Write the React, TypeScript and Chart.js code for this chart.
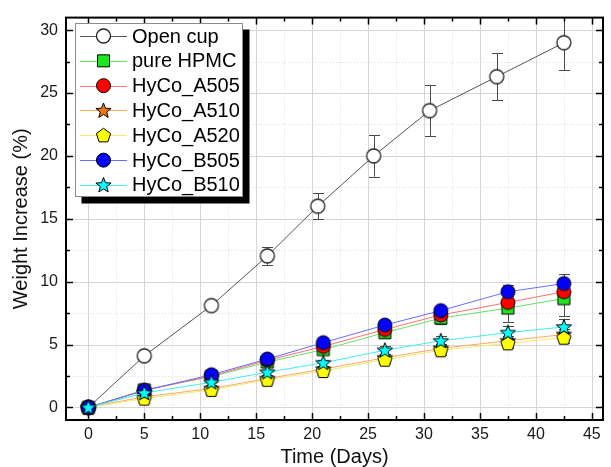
import React, { useEffect, useRef } from 'react';
import { Chart, registerables } from 'chart.js';

Chart.register(...registerables);

// ---------------- data ----------------
const days = [0, 5, 11, 16, 21, 26.5, 31.5, 37.5, 42.5];
const openCupDays = [0, 5, 11, 16, 20.5, 25.5, 30.5, 36.5, 42.5];

const openCup = [0, 4.1, 8.1, 12.05, 16.0, 20.0, 23.6, 26.3, 29.0];
const openCupErr = [0, 0.35, 0.25, 0.7, 1.05, 1.65, 2.05, 1.85, 2.2];

const pureHPMC = [0, 1.4, 2.45, 3.6, 4.6, 5.95, 7.1, 7.9, 8.65];
const pureHPMCErr = [0, 0.2, 0.2, 0.3, 0.35, 0.4, 0.5, 1.1, 1.4];

const hyCoA505 = [0, 1.35, 2.5, 3.75, 4.85, 6.2, 7.35, 8.35, 9.2];
const hyCoA505Err = [0, 0.2, 0.2, 0.25, 0.3, 0.35, 0.4, 0.5, 0.6];

const hyCoA510 = [0, 0.85, 1.5, 2.3, 3.05, 3.95, 4.7, 5.3, 5.8];
const hyCoA510Err = [0, 0.15, 0.2, 0.2, 0.25, 0.3, 0.35, 0.4, 0.45];

const hyCoA520 = [0, 0.7, 1.4, 2.2, 2.9, 3.8, 4.55, 5.1, 5.55];
const hyCoA520Err = [0, 0.15, 0.2, 0.2, 0.25, 0.3, 0.35, 0.4, 0.45];

const hyCoB505 = [0, 1.35, 2.6, 3.85, 5.15, 6.55, 7.7, 9.2, 9.85];
const hyCoB505Err = [0, 0.2, 0.2, 0.25, 0.3, 0.3, 0.35, 0.5, 0.75];

const hyCoB510 = [0, 1.15, 2.0, 2.8, 3.55, 4.55, 5.3, 5.95, 6.4];
const hyCoB510Err = [0, 0.15, 0.2, 0.2, 0.25, 0.3, 0.35, 0.5, 0.65];

const seriesNames = ['Open cup', 'pure HPMC', 'HyCo_A505', 'HyCo_A510', 'HyCo_A520', 'HyCo_B505', 'HyCo_B510'];
const xTitle = 'Time (Days)';
const yTitle = 'Weight Increase (%)';

// ---------------- styles ----------------
type Kind = 'circle' | 'square' | 'star' | 'pentagon';
interface Series {
  name: string;
  xs: number[];
  ys: number[];
  err: number[];
  line: string;
  fill: string;
  stroke: string;
  kind: Kind;
}

const SERIES: Series[] = [
  { name: seriesNames[0], xs: openCupDays, ys: openCup, err: openCupErr, line: '#555555', fill: '#ffffff', stroke: '#222222', kind: 'circle' },
  { name: seriesNames[1], xs: days, ys: pureHPMC, err: pureHPMCErr, line: '#66e066', fill: '#1ee61e', stroke: '#000000', kind: 'square' },
  { name: seriesNames[2], xs: days, ys: hyCoA505, err: hyCoA505Err, line: '#ff7070', fill: '#ff0000', stroke: '#000000', kind: 'circle' },
  { name: seriesNames[3], xs: days, ys: hyCoA510, err: hyCoA510Err, line: '#ffa860', fill: '#f07810', stroke: '#000000', kind: 'star' },
  { name: seriesNames[4], xs: days, ys: hyCoA520, err: hyCoA520Err, line: '#f2ea70', fill: '#ffff00', stroke: '#000000', kind: 'pentagon' },
  { name: seriesNames[5], xs: days, ys: hyCoB505, err: hyCoB505Err, line: '#6a6aff', fill: '#0000ff', stroke: '#000000', kind: 'circle' },
  { name: seriesNames[6], xs: days, ys: hyCoB510, err: hyCoB510Err, line: '#40eeee', fill: '#00ffff', stroke: '#000000', kind: 'star' },
];

const FONT = '"Liberation Sans", Arial, Helvetica, sans-serif';

function drawMarker(g: CanvasRenderingContext2D, kind: Kind, x: number, y: number, fill: string, stroke: string) {
  g.save();
  g.translate(x, y);
  g.beginPath();
  if (kind === 'circle') {
    g.arc(0, 0, 7, 0, Math.PI * 2);
  } else if (kind === 'square') {
    g.rect(-6, -6, 12, 12);
  } else if (kind === 'star') {
    for (let i = 0; i < 10; i++) {
      const r = i % 2 === 0 ? 8 : 3.4;
      const a = -Math.PI / 2 + (i * Math.PI) / 5;
      const px = r * Math.cos(a);
      const py = r * Math.sin(a) + 0.5;
      if (i === 0) g.moveTo(px, py); else g.lineTo(px, py);
    }
    g.closePath();
  } else {
    for (let i = 0; i < 5; i++) {
      const r = 7.5;
      const a = -Math.PI / 2 + (i * 2 * Math.PI) / 5;
      const px = r * Math.cos(a);
      const py = r * Math.sin(a) + 0.5;
      if (i === 0) g.moveTo(px, py); else g.lineTo(px, py);
    }
    g.closePath();
  }
  g.fillStyle = fill;
  g.fill();
  g.lineWidth = kind === 'circle' && fill === '#ffffff' ? 1.3 : 1;
  g.strokeStyle = stroke;
  g.stroke();
  g.restore();
}

function makeMarkerCanvas(s: Series): HTMLCanvasElement {
  const c = document.createElement('canvas');
  c.width = 20;
  c.height = 20;
  const g = c.getContext('2d')!;
  drawMarker(g, s.kind, 10, 10, s.fill, s.stroke);
  return c;
}

const framePlugin = {
  id: 'originFrame',
  beforeDatasetsDraw(chart: any) {
    const { ctx, chartArea: a, scales } = chart;
    const xs = scales.x;
    const ys = scales.y;
    ctx.save();
    // minor grid (dotted)
    ctx.strokeStyle = '#dcdcdc';
    ctx.lineWidth = 1;
    ctx.setLineDash([1, 2]);
    for (let v = 2.5; v < 46; v += 5) {
      const px = Math.round(xs.getPixelForValue(v)) + 0.5;
      ctx.beginPath(); ctx.moveTo(px, a.top); ctx.lineTo(px, a.bottom); ctx.stroke();
    }
    for (let v = 2.5; v < 31; v += 5) {
      const py = Math.round(ys.getPixelForValue(v)) + 0.5;
      ctx.beginPath(); ctx.moveTo(a.left, py); ctx.lineTo(a.right, py); ctx.stroke();
    }
    // major grid (solid)
    ctx.setLineDash([]);
    ctx.strokeStyle = '#d6d6d6';
    for (let v = 0; v <= 45; v += 5) {
      const px = Math.round(xs.getPixelForValue(v)) + 0.5;
      ctx.beginPath(); ctx.moveTo(px, a.top); ctx.lineTo(px, a.bottom); ctx.stroke();
    }
    for (let v = 0; v <= 30; v += 5) {
      const py = Math.round(ys.getPixelForValue(v)) + 0.5;
      ctx.beginPath(); ctx.moveTo(a.left, py); ctx.lineTo(a.right, py); ctx.stroke();
    }
    // error bars
    ctx.beginPath();
    ctx.rect(a.left, a.top, a.right - a.left, a.bottom - a.top);
    ctx.clip();
    ctx.strokeStyle = '#4a4a4a';
    ctx.lineWidth = 1;
    SERIES.forEach((s) => {
      s.ys.forEach((v, i) => {
        const e = s.err[i];
        if (!e) return;
        const px = Math.round(xs.getPixelForValue(s.xs[i])) + 0.5;
        const y1 = ys.getPixelForValue(v + e);
        const y2 = ys.getPixelForValue(v - e);
        ctx.beginPath();
        ctx.moveTo(px, y1); ctx.lineTo(px, y2);
        ctx.moveTo(px - 5.5, Math.round(y1) + 0.5); ctx.lineTo(px + 5.5, Math.round(y1) + 0.5);
        ctx.moveTo(px - 5.5, Math.round(y2) + 0.5); ctx.lineTo(px + 5.5, Math.round(y2) + 0.5);
        ctx.stroke();
      });
    });
    ctx.restore();
  },
  afterDraw(chart: any) {
    const { ctx, chartArea: a, scales } = chart;
    const xs = scales.x;
    const ys = scales.y;
    ctx.save();
    // ticks (inward) on all four sides
    ctx.strokeStyle = '#000';
    ctx.lineWidth = 1.5;
    const tick = (x1: number, y1: number, x2: number, y2: number) => {
      ctx.beginPath(); ctx.moveTo(x1, y1); ctx.lineTo(x2, y2); ctx.stroke();
    };
    for (let v = 0; v < 46; v += 2.5) {
      const major = v % 5 === 0;
      const len = major ? 7 : 4;
      const px = Math.round(xs.getPixelForValue(v)) + 0.5;
      tick(px, a.bottom, px, a.bottom - len);
      tick(px, a.top, px, a.top + len);
    }
    for (let v = 0; v < 31; v += 2.5) {
      const major = v % 5 === 0;
      const len = major ? 7 : 4;
      const py = Math.round(ys.getPixelForValue(v)) + 0.5;
      tick(a.left, py, a.left + len, py);
      tick(a.right, py, a.right - len, py);
    }
    // frame
    ctx.lineWidth = 2;
    ctx.strokeRect(a.left, a.top, a.right - a.left, a.bottom - a.top);

    // legend
    const bx = 75.5, by = 23.5, bw = 167, bh = 173;
    ctx.fillStyle = '#000';
    ctx.fillRect(bx + 6, by + 6, bw + 1, bh + 1);
    ctx.fillStyle = '#fff';
    ctx.fillRect(bx, by, bw, bh);
    ctx.strokeStyle = '#8a8a8a';
    ctx.lineWidth = 1;
    ctx.strokeRect(bx, by, bw, bh);
    ctx.font = `20px ${FONT}`;
    ctx.textBaseline = 'middle';
    ctx.textAlign = 'left';
    SERIES.forEach((s, i) => {
      const cy = 36 + i * 24.83;
      ctx.strokeStyle = s.line;
      ctx.lineWidth = 1;
      ctx.beginPath();
      ctx.moveTo(80, Math.round(cy) + 0.5);
      ctx.lineTo(127, Math.round(cy) + 0.5);
      ctx.stroke();
      drawMarker(ctx, s.kind, 103.5, cy, s.fill, s.stroke);
      ctx.fillStyle = '#000';
      ctx.fillText(s.name, 132, cy + 1);
    });
    ctx.restore();
  },
};

export default function App() {
  const ref = useRef<HTMLCanvasElement | null>(null);

  useEffect(() => {
    document.body.style.margin = '0';
    const canvas = ref.current;
    if (!canvas) return;
    Chart.defaults.font.family = FONT;

    const datasets = SERIES.map((s, idx) => {
      const img = makeMarkerCanvas(s);
      return {
        label: s.name,
        data: s.xs.map((x, i) => ({ x, y: s.ys[i] })),
        borderColor: s.line,
        backgroundColor: s.fill,
        borderWidth: 1,
        pointStyle: img,
        pointRadius: 7,
        pointHoverRadius: 7,
        tension: 0,
        order: SERIES.length - 1 - idx,
        clip: 10,
      };
    });

    const chart = new Chart(canvas, {
      type: 'line',
      data: { datasets: datasets as any },
      options: {
        animation: false,
        responsive: false,
        maintainAspectRatio: false,
        events: [],
        layout: { padding: { top: 12, right: 3, left: 0, bottom: 0 } },
        plugins: { legend: { display: false }, tooltip: { enabled: false } },
        scales: {
          x: {
            type: 'linear',
            min: -2,
            max: 46,
            grid: { display: false, drawTicks: false },
            border: { display: false },
            ticks: {
              stepSize: 5,
              includeBounds: false,
              padding: 5,
              color: '#1a1a1a',
              font: { size: 16, family: FONT },
              maxRotation: 0,
              autoSkip: false,
            },
            title: {
              display: true,
              text: xTitle,
              color: '#111',
              font: { size: 20, family: FONT, lineHeight: 1 },
              padding: { top: 0, bottom: 0 },
            },
            afterFit: (scale: any) => { scale.height = 47; },
          },
          y: {
            type: 'linear',
            min: -1,
            max: 31,
            grid: { display: false, drawTicks: false },
            border: { display: false },
            ticks: {
              stepSize: 5,
              includeBounds: false,
              padding: 8,
              color: '#1a1a1a',
              font: { size: 16, family: FONT },
            },
            title: {
              display: true,
              text: yTitle,
              color: '#111',
              font: { size: 20, family: FONT, lineHeight: 1 },
              padding: { top: 11, bottom: 0 },
            },
            afterFit: (scale: any) => { scale.width = 66; },
          },
        },
      },
      plugins: [framePlugin],
    });

    return () => chart.destroy();
  }, []);

  return (
    <div style={{ width: 611, height: 467, background: '#fff' }}>
      <canvas ref={ref} width={611} height={467} style={{ display: 'block' }} />
    </div>
  );
}
